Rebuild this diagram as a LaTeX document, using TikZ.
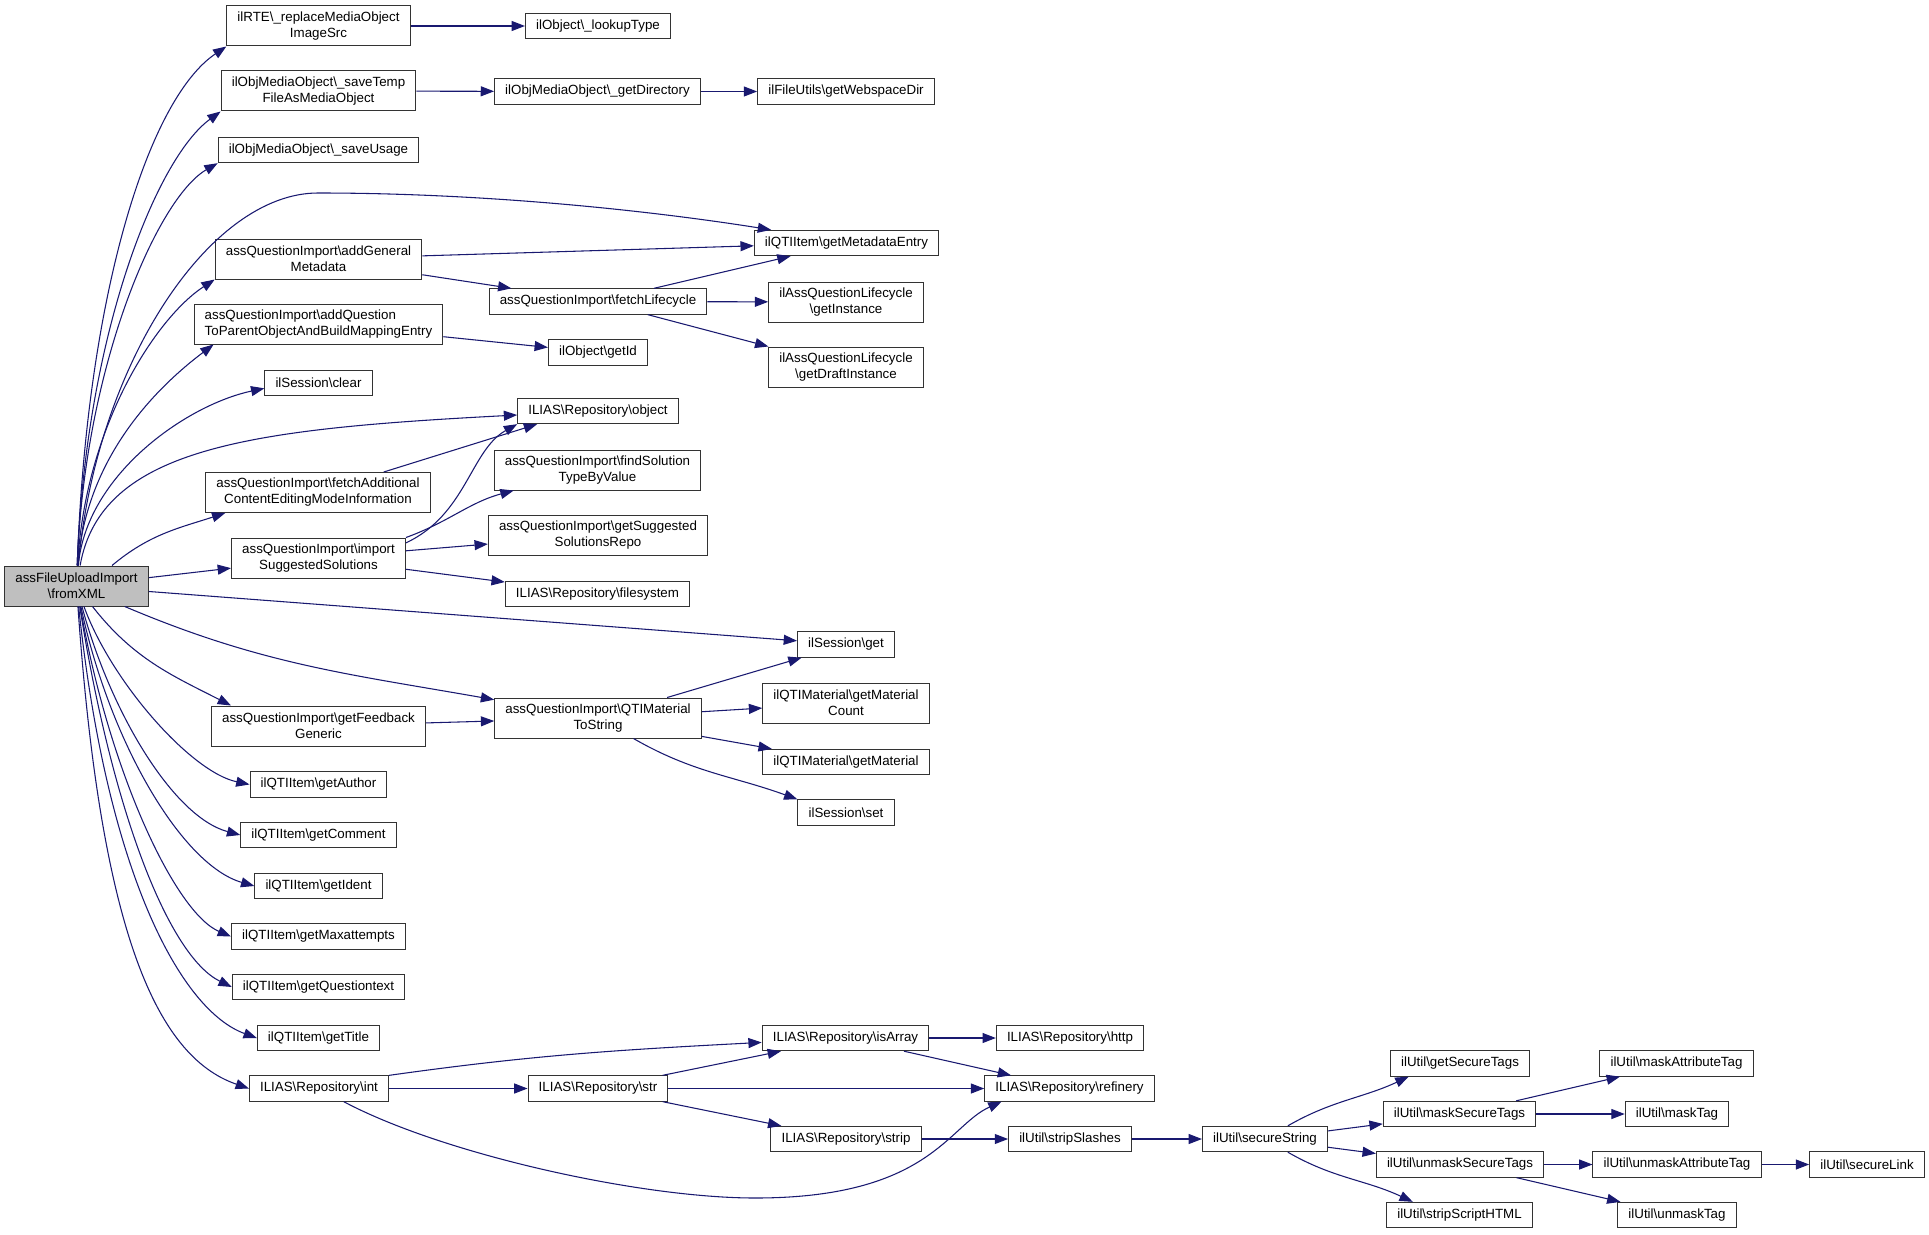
\documentclass[tikz,border=0pt]{standalone}
\usepackage{fontspec}
\setmainfont{Liberation Sans}
\usetikzlibrary{arrows.meta}

\definecolor{edgeblue}{HTML}{191970}
\definecolor{rootfill}{HTML}{BFBFBF}

\begin{document}
\begin{tikzpicture}[x=0.75pt, y=0.75pt, >={Triangle[length=10pt, width=7.5pt]},
        fn/.style={draw=black!80, line width=0.75pt, fill=white, minimum height=19pt,
            inner xsep=8pt, inner ysep=2pt, align=center, font=\fontsize{10}{12}\selectfont},
        fntwo/.style={fn, minimum height=30pt},
        call/.style={->, draw=edgeblue, line width=0.8pt}]

        \useasboundingbox (0,0) rectangle (1929,-1234);

        % The function whose calls are shown.
        \node[fntwo, fill=rootfill] (fromxml) at (76.5,-586) {assFileUploadImport\\\textbackslash fromXML};

        % Functions called directly from fromXML.
        \node[fntwo] (rtesrc)     at (318.5,-26)    {ilRTE\textbackslash\_replaceMediaObject\\ImageSrc};
        \node[fntwo] (savetemp)   at (318.5,-91)    {ilObjMediaObject\textbackslash\_saveTemp\\FileAsMediaObject};
        \node[fn]    (saveusage)  at (318.5,-150)   {ilObjMediaObject\textbackslash\_saveUsage};
        \node[fntwo] (addgen)     at (318.5,-259)   {assQuestionImport\textbackslash addGeneral\\Metadata};
        \node[fntwo, align=left] (addquest) at (318.5,-324) {assQuestionImport\textbackslash addQuestion\\ToParentObjectAndBuildMappingEntry};
        \node[fn]    (sessclear)  at (318.5,-383)   {ilSession\textbackslash clear};
        \node[fntwo] (fetchadd)   at (318,-492.5)   {assQuestionImport\textbackslash fetchAdditional\\ContentEditingModeInformation};
        \node[fntwo] (importsugg) at (318.5,-558)   {assQuestionImport\textbackslash import\\SuggestedSolutions};
        \node[fntwo] (feedback)   at (318.5,-726)   {assQuestionImport\textbackslash getFeedback\\Generic};
        \node[fn]    (author)     at (318.5,-784.5) {ilQTIItem\textbackslash getAuthor};
        \node[fn]    (comment)    at (318.5,-835)   {ilQTIItem\textbackslash getComment};
        \node[fn]    (ident)      at (318.5,-886)   {ilQTIItem\textbackslash getIdent};
        \node[fn]    (maxatt)     at (318.5,-936.5) {ilQTIItem\textbackslash getMaxattempts};
        \node[fn]    (qtext)      at (318.5,-987)   {ilQTIItem\textbackslash getQuestiontext};
        \node[fn]    (title)      at (318.5,-1038)  {ilQTIItem\textbackslash getTitle};
        \node[fn]    (repoint)    at (319,-1088.5)  {ILIAS\textbackslash Repository\textbackslash int};

        % Second level.
        \node[fn]    (lookup)     at (598,-26)      {ilObject\textbackslash\_lookupType};
        \node[fn]    (getdir)     at (597.5,-91.5)  {ilObjMediaObject\textbackslash\_getDirectory};
        \node[fn]    (fetchlife)  at (598,-301.5)   {assQuestionImport\textbackslash fetchLifecycle};
        \node[fn]    (getid)      at (598,-352.5)   {ilObject\textbackslash getId};
        \node[fn]    (repoobj)    at (598,-411)     {ILIAS\textbackslash Repository\textbackslash object};
        \node[fntwo] (findsol)    at (597.5,-470)   {assQuestionImport\textbackslash findSolution\\TypeByValue};
        \node[fntwo] (suggrepo)   at (598,-535)     {assQuestionImport\textbackslash getSuggested\\SolutionsRepo};
        \node[fn]    (filesys)    at (597.5,-594)   {ILIAS\textbackslash Repository\textbackslash filesystem};
        \node[fntwo] (qtimat)     at (598,-718)     {assQuestionImport\textbackslash QTIMaterial\\ToString};
        \node[fn]    (repostr)    at (598,-1088.5)  {ILIAS\textbackslash Repository\textbackslash str};

        % Third level.
        \node[fn]    (webspace)   at (846,-91.5)    {ilFileUtils\textbackslash getWebspaceDir};
        \node[fn]    (metaentry)  at (846.5,-243)   {ilQTIItem\textbackslash getMetadataEntry};
        \node[fntwo] (getinst)    at (846,-302)     {ilAssQuestionLifecycle\\\textbackslash getInstance};
        \node[fntwo] (draftinst)  at (846,-367)     {ilAssQuestionLifecycle\\\textbackslash getDraftInstance};
        \node[fn]    (sessget)    at (846,-644.5)   {ilSession\textbackslash get};
        \node[fntwo] (matcount)   at (846,-703)     {ilQTIMaterial\textbackslash getMaterial\\Count};
        \node[fn]    (getmat)     at (846,-762)     {ilQTIMaterial\textbackslash getMaterial};
        \node[fn]    (sessset)    at (846,-812.5)   {ilSession\textbackslash set};
        \node[fn]    (isarray)    at (845.5,-1038)  {ILIAS\textbackslash Repository\textbackslash isArray};
        \node[fn]    (strip)      at (846,-1139)    {ILIAS\textbackslash Repository\textbackslash strip};

        % Deeper helpers of ILIAS\Repository and ilUtil.
        \node[fn]    (http)        at (1070,-1038)   {ILIAS\textbackslash Repository\textbackslash http};
        \node[fn]    (refinery)    at (1069.5,-1088.5) {ILIAS\textbackslash Repository\textbackslash refinery};
        \node[fn]    (stripsl)     at (1070,-1139)   {ilUtil\textbackslash stripSlashes};
        \node[fn]    (securestr)   at (1265,-1139)   {ilUtil\textbackslash secureString};
        \node[fn]    (sectags)     at (1460,-1063.5) {ilUtil\textbackslash getSecureTags};
        \node[fn]    (masksec)     at (1459.5,-1114) {ilUtil\textbackslash maskSecureTags};
        \node[fn]    (unmasksec)   at (1460,-1164.5) {ilUtil\textbackslash unmaskSecureTags};
        \node[fn]    (stripscript) at (1459.5,-1215) {ilUtil\textbackslash stripScriptHTML};
        \node[fn]    (maskattr)    at (1676.5,-1063.5) {ilUtil\textbackslash maskAttributeTag};
        \node[fn]    (masktag)     at (1677,-1114)   {ilUtil\textbackslash maskTag};
        \node[fn]    (unmaskattr)  at (1677,-1164.5) {ilUtil\textbackslash unmaskAttributeTag};
        \node[fn]    (unmasktag)   at (1677,-1215)   {ilUtil\textbackslash unmaskTag};
        \node[fn]    (securelink)  at (1867,-1164.5) {ilUtil\textbackslash secureLink};

        % Calls leaving the top of fromXML.
        \draw[call] (fromxml) to[out=88, in=214, out distance=202pt, in distance=71pt] (rtesrc.south west);
        \draw[call] (fromxml) to[out=88, in=216, out distance=172pt, in distance=60pt] (savetemp.south west);
        \draw[call] (fromxml) to[out=88, in=210, out distance=150pt, in distance=52pt] (saveusage.south west);
        \draw[call] (fromxml) to[out=85, in=180, out distance=150pt, in distance=82pt] (318,-193)
                              to[out=0, in=171, out distance=128pt, in distance=90pt] ([xshift=13pt]metaentry.north west);
        \draw[call] (fromxml) to[out=87, in=213, out distance=105pt, in distance=52pt] (addgen.south west);
        \draw[call] (fromxml) to[out=86, in=217, out distance=82pt, in distance=52pt] ([xshift=15pt]addquest.south west);
        \draw[call] (fromxml) to[out=85, in=192, out distance=68pt, in distance=60pt] ([yshift=-4pt]sessclear.west);
        \draw[call] (fromxml) to[out=80, in=183, out distance=90pt, in distance=200pt] ([yshift=-3pt]repoobj.west);
        \draw[call] (fromxml.30) to[out=40, in=198] ([xshift=15pt]fetchadd.south west);

        % Calls leaving the right side.
        \draw[call] (fromxml) -- (importsugg);
        \draw[call] (fromxml) -- (sessget);
        \draw[call] (fromxml) to[out=-23, in=170] (qtimat);
        \draw[call] (fromxml) to[out=-52, in=153] ([xshift=15pt]feedback.north west);

        % Calls leaving the bottom.
        \draw[call] (fromxml) to[out=-70, in=168, out distance=60pt, in distance=45pt] (author.west);
        \draw[call] (fromxml) to[out=-75, in=165, out distance=82pt, in distance=52pt] (comment.west);
        \draw[call] (fromxml) to[out=-78, in=164, out distance=105pt, in distance=56pt] (ident.west);
        \draw[call] (fromxml) to[out=-80, in=157, out distance=128pt, in distance=45pt] (maxatt.west);
        \draw[call] (fromxml) to[out=-81, in=154, out distance=158pt, in distance=52pt] (qtext.west);
        \draw[call] (fromxml) to[out=-84, in=160, out distance=203pt, in distance=60pt] (title.west);
        \draw[call] (fromxml) to[out=-86, in=161, out distance=240pt, in distance=75pt] (repoint.west);

        % Media object and metadata calls.
        \draw[call] (rtesrc) -- (lookup);
        \draw[call] (savetemp) -- (getdir);
        \draw[call] (getdir) -- (webspace);
        \draw[call] (addgen) -- (metaentry);
        \draw[call] (addgen) -- (fetchlife);
        \draw[call] (fetchlife) -- (metaentry);
        \draw[call] (fetchlife) -- (getinst);
        \draw[call] (fetchlife) -- (draftinst);
        \draw[call] (addquest) -- (getid);

        % Suggested solutions.
        \draw[call] (fetchadd) -- ([xshift=15pt]repoobj.south west);
        \draw[call] ([yshift=-4pt]importsugg.north east) to[out=25, in=209, out distance=50pt, in distance=40pt] (repoobj.south west);
        \draw[call] (importsugg.north east) to[out=20, in=195] ([xshift=15pt]findsol.south west);
        \draw[call] (importsugg) -- (suggrepo);
        \draw[call] (importsugg) -- (filesys);

        % Material to string.
        \draw[call] (feedback) -- (qtimat);
        \draw[call] (qtimat) -- (sessget);
        \draw[call] (qtimat) -- (matcount);
        \draw[call] (qtimat) -- (getmat);
        \draw[call] (qtimat) to[out=-30, in=160] (sessset.north west);

        % Repository helpers.
        \draw[call] (repoint.north east) to[out=8, in=183] (isarray);
        \draw[call] (repoint) -- (repostr);
        \draw[call] (repoint) to[out=-28, in=180, out distance=84pt, in distance=86pt] (755,-1198)
                              to[out=0, in=204, out distance=131pt, in distance=44pt] ([xshift=13pt]refinery.south west);
        \draw[call] (repostr) -- (isarray);
        \draw[call] (repostr) -- (refinery);
        \draw[call] (repostr) -- (strip);
        \draw[call] (isarray) -- (http);
        \draw[call] (isarray) -- (refinery);

        % String cleaning in ilUtil.
        \draw[call] (strip) -- (stripsl);
        \draw[call] (stripsl) -- (securestr);
        \draw[call] (securestr) to[out=30, in=205] ([xshift=14pt]sectags.south west);
        \draw[call] (securestr) -- (masksec);
        \draw[call] (securestr) -- (unmasksec);
        \draw[call] (securestr) to[out=-30, in=155] ([xshift=20pt]stripscript.north west);
        \draw[call] (masksec) -- (maskattr);
        \draw[call] (masksec) -- (masktag);
        \draw[call] (unmasksec) -- (unmaskattr);
        \draw[call] (unmasksec) -- (unmasktag);
        \draw[call] (unmaskattr) -- (securelink);
\end{tikzpicture}
\end{document}
